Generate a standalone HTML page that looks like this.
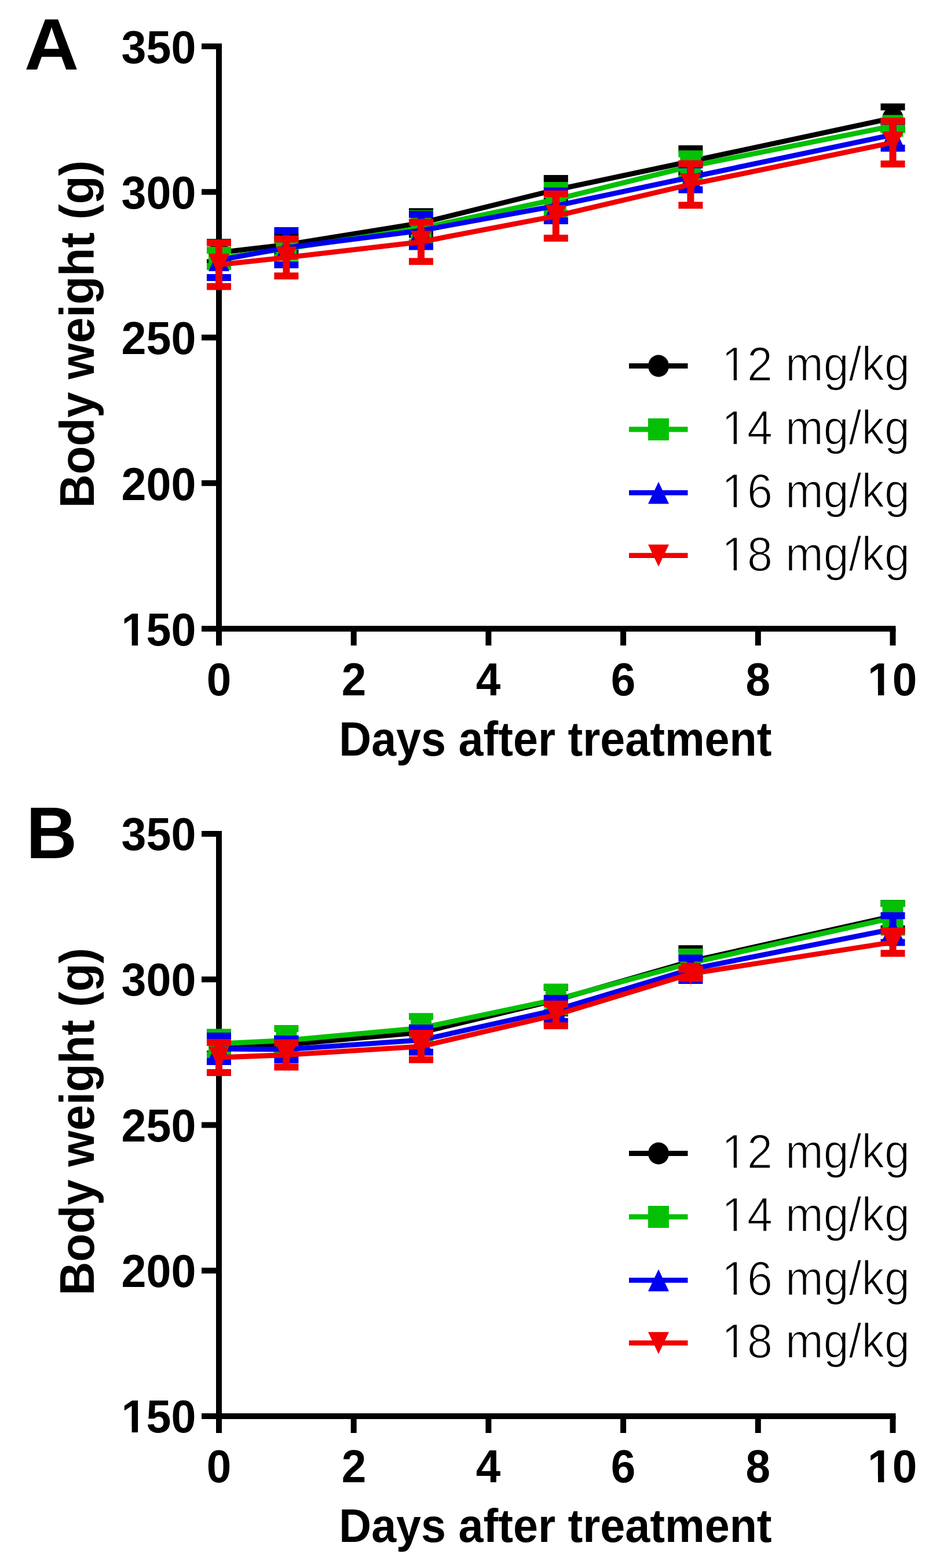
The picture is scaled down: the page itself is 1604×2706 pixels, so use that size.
<!DOCTYPE html>
<html><head><meta charset="utf-8"><title>Body weight</title>
<style>html,body{margin:0;padding:0;background:#fff}svg{display:block}text{font-family:"Liberation Sans",Arial,sans-serif;fill:#000}</style>
</head><body>
<svg width="1604" height="2706" viewBox="0 0 1604 2706">
<rect width="1604" height="2706" fill="#fff"/>
<g transform="matrix(1.30510 0 0 1.27011 42.10 120.40)"><text font-weight="bold" font-size="100">A</text></g>
<g transform="matrix(0.77200 0 0 0.80000 209.56 108.82)"><text font-weight="bold" font-size="100">350</text></g>
<g transform="matrix(0.77200 0 0 0.80000 209.56 360.07)"><text font-weight="bold" font-size="100">300</text></g>
<g transform="matrix(0.77200 0 0 0.80000 209.56 611.37)"><text font-weight="bold" font-size="100">250</text></g>
<g transform="matrix(0.77200 0 0 0.80000 209.56 862.62)"><text font-weight="bold" font-size="100">200</text></g>
<g transform="matrix(0.77200 0 0 0.80000 209.56 1113.87)"><text font-weight="bold" font-size="100">150</text><path d="M4.8,-11.6H23.4V1.4H4.8ZM37.0,-11.6H54V1.4H37.0Z" fill="#fff"/></g>
<g transform="matrix(0.76500 0 0 0.80600 356.79 1199.67)"><text font-weight="bold" font-size="100">0</text></g>
<g transform="matrix(0.76500 0 0 0.80600 589.63 1199.67)"><text font-weight="bold" font-size="100">2</text></g>
<g transform="matrix(0.76500 0 0 0.80600 821.75 1199.67)"><text font-weight="bold" font-size="100">4</text></g>
<g transform="matrix(0.76500 0 0 0.80600 1054.81 1199.67)"><text font-weight="bold" font-size="100">6</text></g>
<g transform="matrix(0.76500 0 0 0.80600 1287.49 1199.67)"><text font-weight="bold" font-size="100">8</text></g>
<g transform="matrix(0.76500 0 0 0.80600 1498.12 1199.67)"><text font-weight="bold" font-size="100">10</text><path d="M4.8,-11.6H23.4V1.4H4.8ZM37.0,-11.6H54V1.4H37.0Z" fill="#fff"/></g>
<g transform="matrix(0.77278 0 0 0.82688 585.33 1303.70)"><text font-weight="bold" font-size="100">Days after treatment</text></g>
<text transform="matrix(0 -0.79975 0.82979 0 161.90 876.55)" font-weight="bold" font-size="100">Body weight (g)</text>
<g stroke="#000" stroke-width="10" stroke-linecap="butt"><line x1="378.0" y1="75.0" x2="378.0" y2="1114.0" /><line x1="373.0" y1="1085.0" x2="1546.5" y2="1085.0" /><line x1="348" y1="80.0" x2="378.0" y2="80.0" /><line x1="348" y1="331.25" x2="378.0" y2="331.25" /><line x1="348" y1="582.5" x2="378.0" y2="582.5" /><line x1="348" y1="833.75" x2="378.0" y2="833.75" /><line x1="348" y1="1085.0" x2="378.0" y2="1085.0" /><line x1="610.7" y1="1085.0" x2="610.7" y2="1114.0" /><line x1="843.4" y1="1085.0" x2="843.4" y2="1114.0" /><line x1="1076.1" y1="1085.0" x2="1076.1" y2="1114.0" /><line x1="1308.8" y1="1085.0" x2="1308.8" y2="1114.0" /><line x1="1541.5" y1="1085.0" x2="1541.5" y2="1114.0" /></g>
<g><polyline points="378.0,435.8 494.4,422.3 727.0,384.8 959.8,327.6 1192.4,278.4 1541.5,203.6" fill="none" stroke="#000000" stroke-width="8.8" stroke-linejoin="miter"/><path d="M378.0,418.2V453.2M494.4,408.3V436.3M727.0,365.2V404.4M959.8,308.0V347.2M1192.4,256.7V300.1M1541.5,184.4V222.8" fill="none" stroke="#000000" stroke-width="12"/><path d="M357.0,418.2H399.0M357.0,453.2H399.0M473.4,408.3H515.4M473.4,436.3H515.4M706.0,365.2H748.0M706.0,404.4H748.0M938.8,308.0H980.8M938.8,347.2H980.8M1171.4,256.7H1213.4M1171.4,300.1H1213.4M1520.5,184.4H1562.5M1520.5,222.8H1562.5" fill="none" stroke="#000000" stroke-width="12"/><ellipse cx="378.0" cy="435.8" rx="18.0" ry="19.0" fill="#000000"/><ellipse cx="494.4" cy="422.3" rx="18.0" ry="19.0" fill="#000000"/><ellipse cx="727.0" cy="384.8" rx="18.0" ry="19.0" fill="#000000"/><ellipse cx="959.8" cy="327.6" rx="18.0" ry="19.0" fill="#000000"/><ellipse cx="1192.4" cy="278.4" rx="18.0" ry="19.0" fill="#000000"/><ellipse cx="1541.5" cy="203.6" rx="18.0" ry="19.0" fill="#000000"/></g>
<g><polyline points="378.0,446.0 494.4,429.2 727.0,393.8 959.8,344.1 1192.4,286.9 1541.5,217.4" fill="none" stroke="#04c004" stroke-width="8.8" stroke-linejoin="miter"/><path d="M378.0,432.0V460.0M494.4,414.2V444.2M727.0,368.8V418.8M959.8,319.9V368.4M1192.4,265.4V308.3M1541.5,211.4V223.4" fill="none" stroke="#04c004" stroke-width="12"/><path d="M357.0,432.0H399.0M357.0,460.0H399.0M473.4,414.2H515.4M473.4,444.2H515.4M706.0,368.8H748.0M706.0,418.8H748.0M938.8,319.9H980.8M938.8,368.4H980.8M1171.4,265.4H1213.4M1171.4,308.3H1213.4M1520.5,211.4H1562.5M1520.5,223.4H1562.5" fill="none" stroke="#04c004" stroke-width="12"/><rect x="360.0" y="427.0" width="36" height="38" fill="#04c004"/><rect x="476.4" y="410.2" width="36" height="38" fill="#04c004"/><rect x="709.0" y="374.8" width="36" height="38" fill="#04c004"/><rect x="941.8" y="325.1" width="36" height="38" fill="#04c004"/><rect x="1174.4" y="267.9" width="36" height="38" fill="#04c004"/><rect x="1523.5" y="198.4" width="36" height="38" fill="#04c004"/></g>
<g><polyline points="378.0,449.0 494.4,427.5 727.0,397.8 959.8,355.2 1192.4,305.9 1541.5,232.6" fill="none" stroke="#0000f0" stroke-width="8.8" stroke-linejoin="miter"/><path d="M378.0,419.0V479.0M494.4,398.0V457.0M727.0,369.9V425.6M959.8,329.4V380.9M1192.4,284.4V327.4M1541.5,209.4V255.8" fill="none" stroke="#0000f0" stroke-width="12"/><path d="M357.0,419.0H399.0M357.0,479.0H399.0M473.4,398.0H515.4M473.4,457.0H515.4M706.0,369.9H748.0M706.0,425.6H748.0M938.8,329.4H980.8M938.8,380.9H980.8M1171.4,284.4H1213.4M1171.4,327.4H1213.4M1520.5,209.4H1562.5M1520.5,255.8H1562.5" fill="none" stroke="#0000f0" stroke-width="12"/><path d="M378.0,430.0L396.0,468.0L360.0,468.0Z" fill="#0000f0"/><path d="M494.4,408.5L512.4,446.5L476.4,446.5Z" fill="#0000f0"/><path d="M727.0,378.8L745.0,416.8L709.0,416.8Z" fill="#0000f0"/><path d="M959.8,336.2L977.8,374.2L941.8,374.2Z" fill="#0000f0"/><path d="M1192.4,286.9L1210.4,324.9L1174.4,324.9Z" fill="#0000f0"/><path d="M1541.5,213.6L1559.5,251.6L1523.5,251.6Z" fill="#0000f0"/></g>
<g><polyline points="378.0,456.8 494.4,444.4 727.0,417.3 959.8,372.7 1192.4,318.3 1541.5,246.0" fill="none" stroke="#f00000" stroke-width="8.8" stroke-linejoin="miter"/><path d="M378.0,419.2V494.4M494.4,412.6V476.2M727.0,383.4V451.2M959.8,334.4V410.9M1192.4,282.4V354.2M1541.5,209.0V283.0" fill="none" stroke="#f00000" stroke-width="12"/><path d="M357.0,419.2H399.0M357.0,494.4H399.0M473.4,412.6H515.4M473.4,476.2H515.4M706.0,383.4H748.0M706.0,451.2H748.0M938.8,334.4H980.8M938.8,410.9H980.8M1171.4,282.4H1213.4M1171.4,354.2H1213.4M1520.5,209.0H1562.5M1520.5,283.0H1562.5" fill="none" stroke="#f00000" stroke-width="12"/><path d="M360.0,437.8L396.0,437.8L378.0,475.8Z" fill="#f00000"/><path d="M476.4,425.4L512.4,425.4L494.4,463.4Z" fill="#f00000"/><path d="M709.0,398.3L745.0,398.3L727.0,436.3Z" fill="#f00000"/><path d="M941.8,353.7L977.8,353.7L959.8,391.7Z" fill="#f00000"/><path d="M1174.4,299.3L1210.4,299.3L1192.4,337.3Z" fill="#f00000"/><path d="M1523.5,227.0L1559.5,227.0L1541.5,265.0Z" fill="#f00000"/></g>
<line x1="1086" y1="631.5" x2="1187.5" y2="631.5" stroke="#000000" stroke-width="8.8"/>
<ellipse cx="1137.0" cy="631.5" rx="18.0" ry="19.0" fill="#000000"/>
<g transform="matrix(0.78993 0 0 0.84286 1246.08 657.40)"><text font-weight="normal" font-size="100" stroke="#fff" stroke-width="2">12 mg/kg</text><path d="M6.4,-8.9H26.1V1.4H6.4ZM33.0,-8.9H51.9V1.4H33.0Z" fill="#fff"/></g>
<line x1="1086" y1="741.0" x2="1187.5" y2="741.0" stroke="#04c004" stroke-width="8.8"/>
<rect x="1119.0" y="722.0" width="36" height="38" fill="#04c004"/>
<g transform="matrix(0.78993 0 0 0.84286 1246.08 766.90)"><text font-weight="normal" font-size="100" stroke="#fff" stroke-width="2">14 mg/kg</text><path d="M6.4,-8.9H26.1V1.4H6.4ZM33.0,-8.9H51.9V1.4H33.0Z" fill="#fff"/></g>
<line x1="1086" y1="850.4" x2="1187.5" y2="850.4" stroke="#0000f0" stroke-width="8.8"/>
<path d="M1137.0,831.4L1155.0,869.4L1119.0,869.4Z" fill="#0000f0"/>
<g transform="matrix(0.78993 0 0 0.84286 1246.08 876.30)"><text font-weight="normal" font-size="100" stroke="#fff" stroke-width="2">16 mg/kg</text><path d="M6.4,-8.9H26.1V1.4H6.4ZM33.0,-8.9H51.9V1.4H33.0Z" fill="#fff"/></g>
<line x1="1086" y1="958.7" x2="1187.5" y2="958.7" stroke="#f00000" stroke-width="8.8"/>
<path d="M1119.0,939.7L1155.0,939.7L1137.0,977.7Z" fill="#f00000"/>
<g transform="matrix(0.78993 0 0 0.84286 1246.08 984.60)"><text font-weight="normal" font-size="100" stroke="#fff" stroke-width="2">18 mg/kg</text><path d="M6.4,-8.9H26.1V1.4H6.4ZM33.0,-8.9H51.9V1.4H33.0Z" fill="#fff"/></g>
<g transform="matrix(1.21509 0 0 1.26284 45.37 1480.70)"><text font-weight="bold" font-size="100">B</text></g>
<g transform="matrix(0.77200 0 0 0.80000 209.56 1467.12)"><text font-weight="bold" font-size="100">350</text></g>
<g transform="matrix(0.77200 0 0 0.80000 209.56 1718.37)"><text font-weight="bold" font-size="100">300</text></g>
<g transform="matrix(0.77200 0 0 0.80000 209.56 1969.67)"><text font-weight="bold" font-size="100">250</text></g>
<g transform="matrix(0.77200 0 0 0.80000 209.56 2220.92)"><text font-weight="bold" font-size="100">200</text></g>
<g transform="matrix(0.77200 0 0 0.80000 209.56 2472.17)"><text font-weight="bold" font-size="100">150</text><path d="M4.8,-11.6H23.4V1.4H4.8ZM37.0,-11.6H54V1.4H37.0Z" fill="#fff"/></g>
<g transform="matrix(0.76500 0 0 0.80600 356.79 2557.97)"><text font-weight="bold" font-size="100">0</text></g>
<g transform="matrix(0.76500 0 0 0.80600 589.63 2557.97)"><text font-weight="bold" font-size="100">2</text></g>
<g transform="matrix(0.76500 0 0 0.80600 821.75 2557.97)"><text font-weight="bold" font-size="100">4</text></g>
<g transform="matrix(0.76500 0 0 0.80600 1054.81 2557.97)"><text font-weight="bold" font-size="100">6</text></g>
<g transform="matrix(0.76500 0 0 0.80600 1287.49 2557.97)"><text font-weight="bold" font-size="100">8</text></g>
<g transform="matrix(0.76500 0 0 0.80600 1498.12 2557.97)"><text font-weight="bold" font-size="100">10</text><path d="M4.8,-11.6H23.4V1.4H4.8ZM37.0,-11.6H54V1.4H37.0Z" fill="#fff"/></g>
<g transform="matrix(0.77278 0 0 0.82252 585.33 2661.20)"><text font-weight="bold" font-size="100">Days after treatment</text></g>
<text transform="matrix(0 -0.79975 0.82979 0 161.90 2235.55)" font-weight="bold" font-size="100">Body weight (g)</text>
<g stroke="#000" stroke-width="10" stroke-linecap="butt"><line x1="378.0" y1="1434.0" x2="378.0" y2="2473.0" /><line x1="373.0" y1="2444.0" x2="1546.5" y2="2444.0" /><line x1="348" y1="1439.0" x2="378.0" y2="1439.0" /><line x1="348" y1="1690.25" x2="378.0" y2="1690.25" /><line x1="348" y1="1941.5" x2="378.0" y2="1941.5" /><line x1="348" y1="2192.75" x2="378.0" y2="2192.75" /><line x1="348" y1="2444.0" x2="378.0" y2="2444.0" /><line x1="610.7" y1="2444.0" x2="610.7" y2="2473.0" /><line x1="843.4" y1="2444.0" x2="843.4" y2="2473.0" /><line x1="1076.1" y1="2444.0" x2="1076.1" y2="2473.0" /><line x1="1308.8" y1="2444.0" x2="1308.8" y2="2473.0" /><line x1="1541.5" y1="2444.0" x2="1541.5" y2="2473.0" /></g>
<g><polyline points="378.0,1807.0 494.4,1802.8 727.0,1781.7 959.8,1726.1 1192.4,1658.9 1541.5,1581.0" fill="none" stroke="#000000" stroke-width="8.8" stroke-linejoin="miter"/><path d="M378.0,1795.0V1819.0M494.4,1792.8V1812.8M727.0,1773.7V1789.7M959.8,1704.1V1748.1M1192.4,1637.3V1680.5M1541.5,1559.0V1603.0" fill="none" stroke="#000000" stroke-width="12"/><path d="M357.0,1795.0H399.0M357.0,1819.0H399.0M473.4,1792.8H515.4M473.4,1812.8H515.4M706.0,1773.7H748.0M706.0,1789.7H748.0M938.8,1704.1H980.8M938.8,1748.1H980.8M1171.4,1637.3H1213.4M1171.4,1680.5H1213.4M1520.5,1559.0H1562.5M1520.5,1603.0H1562.5" fill="none" stroke="#000000" stroke-width="12"/><ellipse cx="378.0" cy="1807.0" rx="18.0" ry="19.0" fill="#000000"/><ellipse cx="494.4" cy="1802.8" rx="18.0" ry="19.0" fill="#000000"/><ellipse cx="727.0" cy="1781.7" rx="18.0" ry="19.0" fill="#000000"/><ellipse cx="959.8" cy="1726.1" rx="18.0" ry="19.0" fill="#000000"/><ellipse cx="1192.4" cy="1658.9" rx="18.0" ry="19.0" fill="#000000"/><ellipse cx="1541.5" cy="1581.0" rx="18.0" ry="19.0" fill="#000000"/></g>
<g><polyline points="378.0,1801.1 494.4,1795.5 727.0,1774.1 959.8,1725.0 1192.4,1661.9 1541.5,1584.0" fill="none" stroke="#04c004" stroke-width="8.8" stroke-linejoin="miter"/><path d="M378.0,1781.5V1820.7M494.4,1775.0V1816.0M727.0,1754.2V1794.0M959.8,1703.5V1746.5M1192.4,1642.9V1680.9M1541.5,1559.2V1608.8" fill="none" stroke="#04c004" stroke-width="12"/><path d="M357.0,1781.5H399.0M357.0,1820.7H399.0M473.4,1775.0H515.4M473.4,1816.0H515.4M706.0,1754.2H748.0M706.0,1794.0H748.0M938.8,1703.5H980.8M938.8,1746.5H980.8M1171.4,1642.9H1213.4M1171.4,1680.9H1213.4M1520.5,1559.2H1562.5M1520.5,1608.8H1562.5" fill="none" stroke="#04c004" stroke-width="12"/><rect x="360.0" y="1782.1" width="36" height="38" fill="#04c004"/><rect x="476.4" y="1776.5" width="36" height="38" fill="#04c004"/><rect x="709.0" y="1755.1" width="36" height="38" fill="#04c004"/><rect x="941.8" y="1706.0" width="36" height="38" fill="#04c004"/><rect x="1174.4" y="1642.9" width="36" height="38" fill="#04c004"/><rect x="1523.5" y="1565.0" width="36" height="38" fill="#04c004"/></g>
<g><polyline points="378.0,1810.0 494.4,1811.0 727.0,1795.0 959.8,1743.0 1192.4,1672.7 1541.5,1603.4" fill="none" stroke="#0000f0" stroke-width="8.8" stroke-linejoin="miter"/><path d="M378.0,1788.0V1832.0M494.4,1793.0V1829.0M727.0,1774.2V1815.8M959.8,1723.0V1763.0M1192.4,1653.4V1692.0M1541.5,1580.2V1626.6" fill="none" stroke="#0000f0" stroke-width="12"/><path d="M357.0,1788.0H399.0M357.0,1832.0H399.0M473.4,1793.0H515.4M473.4,1829.0H515.4M706.0,1774.2H748.0M706.0,1815.8H748.0M938.8,1723.0H980.8M938.8,1763.0H980.8M1171.4,1653.4H1213.4M1171.4,1692.0H1213.4M1520.5,1580.2H1562.5M1520.5,1626.6H1562.5" fill="none" stroke="#0000f0" stroke-width="12"/><path d="M378.0,1791.0L396.0,1829.0L360.0,1829.0Z" fill="#0000f0"/><path d="M494.4,1792.0L512.4,1830.0L476.4,1830.0Z" fill="#0000f0"/><path d="M727.0,1776.0L745.0,1814.0L709.0,1814.0Z" fill="#0000f0"/><path d="M959.8,1724.0L977.8,1762.0L941.8,1762.0Z" fill="#0000f0"/><path d="M1192.4,1653.7L1210.4,1691.7L1174.4,1691.7Z" fill="#0000f0"/><path d="M1541.5,1584.4L1559.5,1622.4L1523.5,1622.4Z" fill="#0000f0"/></g>
<g><polyline points="378.0,1825.0 494.4,1820.5 727.0,1806.0 959.8,1751.5 1192.4,1680.5 1541.5,1626.0" fill="none" stroke="#f00000" stroke-width="8.8" stroke-linejoin="miter"/><path d="M378.0,1799.0V1851.0M494.4,1799.5V1841.5M727.0,1783.2V1828.8M959.8,1732.7V1770.3M1192.4,1672.5V1688.5M1541.5,1606.8V1645.2" fill="none" stroke="#f00000" stroke-width="12"/><path d="M357.0,1799.0H399.0M357.0,1851.0H399.0M473.4,1799.5H515.4M473.4,1841.5H515.4M706.0,1783.2H748.0M706.0,1828.8H748.0M938.8,1732.7H980.8M938.8,1770.3H980.8M1171.4,1672.5H1213.4M1171.4,1688.5H1213.4M1520.5,1606.8H1562.5M1520.5,1645.2H1562.5" fill="none" stroke="#f00000" stroke-width="12"/><path d="M360.0,1806.0L396.0,1806.0L378.0,1844.0Z" fill="#f00000"/><path d="M476.4,1801.5L512.4,1801.5L494.4,1839.5Z" fill="#f00000"/><path d="M709.0,1787.0L745.0,1787.0L727.0,1825.0Z" fill="#f00000"/><path d="M941.8,1732.5L977.8,1732.5L959.8,1770.5Z" fill="#f00000"/><path d="M1174.4,1661.5L1210.4,1661.5L1192.4,1699.5Z" fill="#f00000"/><path d="M1523.5,1607.0L1559.5,1607.0L1541.5,1645.0Z" fill="#f00000"/></g>
<line x1="1086" y1="1990.5" x2="1187.5" y2="1990.5" stroke="#000000" stroke-width="8.8"/>
<ellipse cx="1137.0" cy="1990.5" rx="18.0" ry="19.0" fill="#000000"/>
<g transform="matrix(0.78993 0 0 0.84286 1246.08 2015.70)"><text font-weight="normal" font-size="100" stroke="#fff" stroke-width="2">12 mg/kg</text><path d="M6.4,-8.9H26.1V1.4H6.4ZM33.0,-8.9H51.9V1.4H33.0Z" fill="#fff"/></g>
<line x1="1086" y1="2100.0" x2="1187.5" y2="2100.0" stroke="#04c004" stroke-width="8.8"/>
<rect x="1119.0" y="2081.0" width="36" height="38" fill="#04c004"/>
<g transform="matrix(0.78993 0 0 0.84286 1246.08 2125.20)"><text font-weight="normal" font-size="100" stroke="#fff" stroke-width="2">14 mg/kg</text><path d="M6.4,-8.9H26.1V1.4H6.4ZM33.0,-8.9H51.9V1.4H33.0Z" fill="#fff"/></g>
<line x1="1086" y1="2209.4" x2="1187.5" y2="2209.4" stroke="#0000f0" stroke-width="8.8"/>
<path d="M1137.0,2190.4L1155.0,2228.4L1119.0,2228.4Z" fill="#0000f0"/>
<g transform="matrix(0.78993 0 0 0.84286 1246.08 2234.60)"><text font-weight="normal" font-size="100" stroke="#fff" stroke-width="2">16 mg/kg</text><path d="M6.4,-8.9H26.1V1.4H6.4ZM33.0,-8.9H51.9V1.4H33.0Z" fill="#fff"/></g>
<line x1="1086" y1="2317.7" x2="1187.5" y2="2317.7" stroke="#f00000" stroke-width="8.8"/>
<path d="M1119.0,2298.7L1155.0,2298.7L1137.0,2336.7Z" fill="#f00000"/>
<g transform="matrix(0.78993 0 0 0.84286 1246.08 2342.90)"><text font-weight="normal" font-size="100" stroke="#fff" stroke-width="2">18 mg/kg</text><path d="M6.4,-8.9H26.1V1.4H6.4ZM33.0,-8.9H51.9V1.4H33.0Z" fill="#fff"/></g>
</svg>
</body></html>
